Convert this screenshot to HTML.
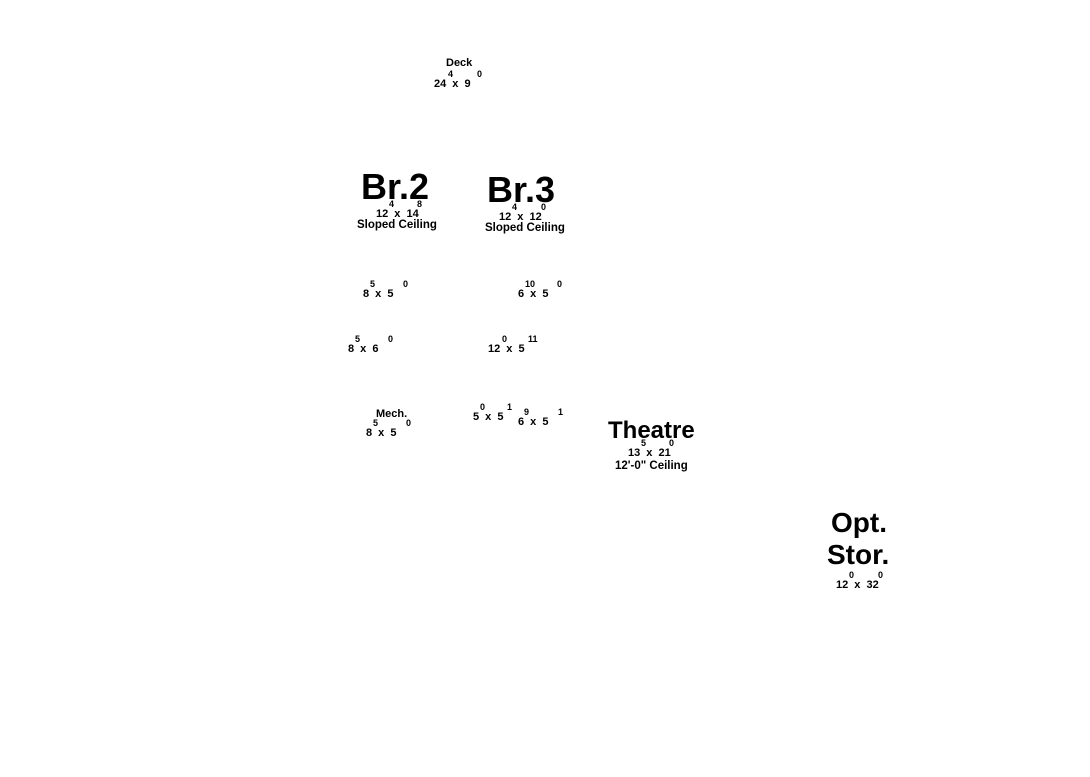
<!DOCTYPE html>
<html><head><meta charset="utf-8"><style>
body{margin:0;width:1090px;height:777px;background:#fff;position:relative;overflow:hidden;font-family:"Liberation Sans",sans-serif;font-weight:bold;color:#000}
span{position:absolute;line-height:1;white-space:pre}
.s{font-size:11px}.u{font-size:9px}
.d{word-spacing:3px}
.c{font-size:11.5px}
.b{font-size:36px}.t{font-size:24px}.o{font-size:28px}
</style></head><body>
<span class="s" style="left:446px;top:58px">Deck</span>
<span class="s d" style="left:434px;top:79px">24 x 9</span>
<span class="u" style="left:448px;top:70px">4</span>
<span class="u" style="left:477px;top:70px">0</span>

<span class="b" style="left:361px;top:169px">Br.2</span>
<span class="s d" style="left:376px;top:209px">12 x 14</span>
<span class="u" style="left:389px;top:200px">4</span>
<span class="u" style="left:417px;top:200px">8</span>
<span class="c" style="left:357px;top:220px">Sloped Ceiling</span>

<span class="b" style="left:487px;top:172px">Br.3</span>
<span class="s d" style="left:499px;top:212px">12 x 12</span>
<span class="u" style="left:512px;top:203px">4</span>
<span class="u" style="left:541px;top:203px">0</span>
<span class="c" style="left:485px;top:223px">Sloped Ceiling</span>

<span class="s d" style="left:363px;top:289px">8 x 5</span>
<span class="u" style="left:370px;top:280px">5</span>
<span class="u" style="left:403px;top:280px">0</span>

<span class="s d" style="left:518px;top:289px">6 x 5</span>
<span class="u" style="left:525px;top:280px">10</span>
<span class="u" style="left:557px;top:280px">0</span>

<span class="s d" style="left:348px;top:344px">8 x 6</span>
<span class="u" style="left:355px;top:335px">5</span>
<span class="u" style="left:388px;top:335px">0</span>

<span class="s d" style="left:488px;top:344px">12 x 5</span>
<span class="u" style="left:502px;top:335px">0</span>
<span class="u" style="left:528px;top:335px">11</span>

<span class="s" style="left:376px;top:409px">Mech.</span>
<span class="s d" style="left:366px;top:428px">8 x 5</span>
<span class="u" style="left:373px;top:419px">5</span>
<span class="u" style="left:406px;top:419px">0</span>

<span class="s d" style="left:473px;top:412px">5 x 5</span>
<span class="u" style="left:480px;top:403px">0</span>
<span class="u" style="left:507px;top:403px">1</span>

<span class="s d" style="left:518px;top:417px">6 x 5</span>
<span class="u" style="left:524px;top:408px">9</span>
<span class="u" style="left:558px;top:408px">1</span>

<span class="t" style="left:608px;top:419px">Theatre</span>
<span class="s d" style="left:628px;top:448px">13 x 21</span>
<span class="u" style="left:641px;top:439px">5</span>
<span class="u" style="left:669px;top:439px">0</span>
<span class="c" style="left:615px;top:461px">12'-0" Ceiling</span>

<span class="o" style="left:831px;top:509px">Opt.</span>
<span class="o" style="left:827px;top:541px">Stor.</span>
<span class="s d" style="left:836px;top:580px">12 x 32</span>
<span class="u" style="left:849px;top:571px">0</span>
<span class="u" style="left:878px;top:571px">0</span>
</body></html>
